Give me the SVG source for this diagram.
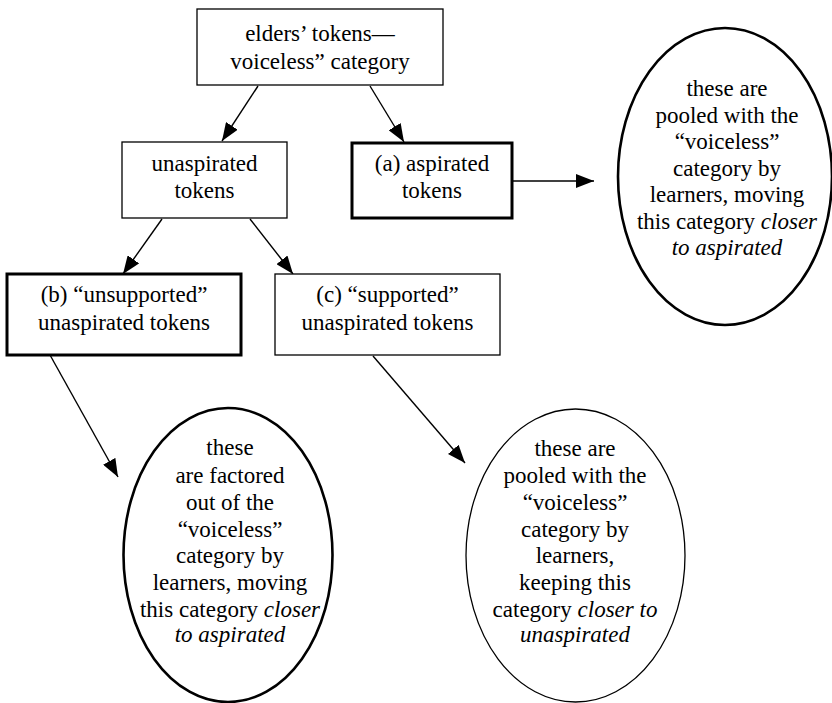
<svg xmlns="http://www.w3.org/2000/svg" width="832" height="703" viewBox="0 0 832 703">
<style>
text{font-family:"Liberation Serif","Times New Roman",serif;font-size:23px;fill:#000;text-anchor:middle}
.it{font-style:italic}
.box{fill:#fff;stroke:#000;stroke-width:1.3}
.thick{fill:#fff;stroke:#000;stroke-width:3}
.ell{fill:#fff;stroke:#000;stroke-width:2.6}
.ellthin{fill:#fff;stroke:#000;stroke-width:1.3}
.conn line{stroke:#000;stroke-width:1.4;marker-end:url(#ah)}
</style>
<defs>
<marker id="ah" viewBox="0 0 18 14" refX="18" refY="7" markerWidth="18" markerHeight="14" markerUnits="userSpaceOnUse" orient="auto">
<path d="M0,0 L18,7 L0,14 z" fill="#000"/>
</marker>
</defs>
<rect width="832" height="703" fill="#fff"/>
<g id="connectors" class="conn">
<line x1="258" y1="86" x2="222" y2="141"/>
<line x1="370" y1="86" x2="404" y2="142"/>
<line x1="513" y1="181" x2="594" y2="181"/>
<line x1="162" y1="219" x2="123" y2="274"/>
<line x1="250" y1="219" x2="293" y2="274"/>
<line x1="50" y1="355" x2="118" y2="477"/>
<line x1="373" y1="356" x2="465" y2="463"/>
</g>
<g id="top">
<rect class="box" x="197" y="9" width="246" height="76"/>
<text x="320" y="41">elders’ tokens—</text>
<text x="320" y="69">voiceless” category</text>
</g>
<g id="unaspirated">
<rect class="box" x="122" y="142" width="165" height="76"/>
<text x="204.5" y="171">unaspirated</text>
<text x="204.5" y="198">tokens</text>
</g>
<g id="aspirated">
<rect class="thick" x="352" y="143" width="160" height="75"/>
<text x="432" y="171">(a) aspirated</text>
<text x="432" y="198">tokens</text>
</g>
<g id="ellipseA">
<ellipse class="ell" cx="725" cy="176.5" rx="107" ry="148.5"/>
<text x="727" y="96">these are</text>
<text x="727" y="123">pooled with the</text>
<text x="727" y="149">“voiceless”</text>
<text x="727" y="176">category by</text>
<text x="727" y="202">learners, moving</text>
<text x="727" y="229">this category <tspan class="it">closer</tspan></text>
<text x="727" y="255" class="it">to aspirated</text>
</g>
<g id="unsupported">
<rect class="thick" x="7" y="274" width="234" height="81"/>
<text x="124" y="302">(b) “unsupported”</text>
<text x="124" y="330">unaspirated tokens</text>
</g>
<g id="supported">
<rect class="box" x="275" y="274" width="225" height="81"/>
<text x="387.5" y="302">(c) “supported”</text>
<text x="387.5" y="330">unaspirated tokens</text>
</g>
<g id="ellipseB">
<ellipse class="ell" cx="228" cy="555" rx="104.5" ry="147"/>
<text x="230" y="455">these</text>
<text x="230" y="483">are factored</text>
<text x="230" y="510">out of the</text>
<text x="230" y="537">“voiceless”</text>
<text x="230" y="563">category by</text>
<text x="230" y="590">learners, moving</text>
<text x="230" y="617">this category <tspan class="it">closer</tspan></text>
<text x="230" y="642" class="it">to aspirated</text>
</g>
<g id="ellipseC">
<ellipse class="ellthin" cx="575.5" cy="555.5" rx="109.5" ry="146.5"/>
<text x="575" y="456">these are</text>
<text x="575" y="483">pooled with the</text>
<text x="575" y="510">“voiceless”</text>
<text x="575" y="537">category by</text>
<text x="575" y="563">learners,</text>
<text x="575" y="590">keeping this</text>
<text x="575" y="617">category <tspan class="it">closer to</tspan></text>
<text x="575" y="642" class="it">unaspirated</text>
</g>
</svg>
